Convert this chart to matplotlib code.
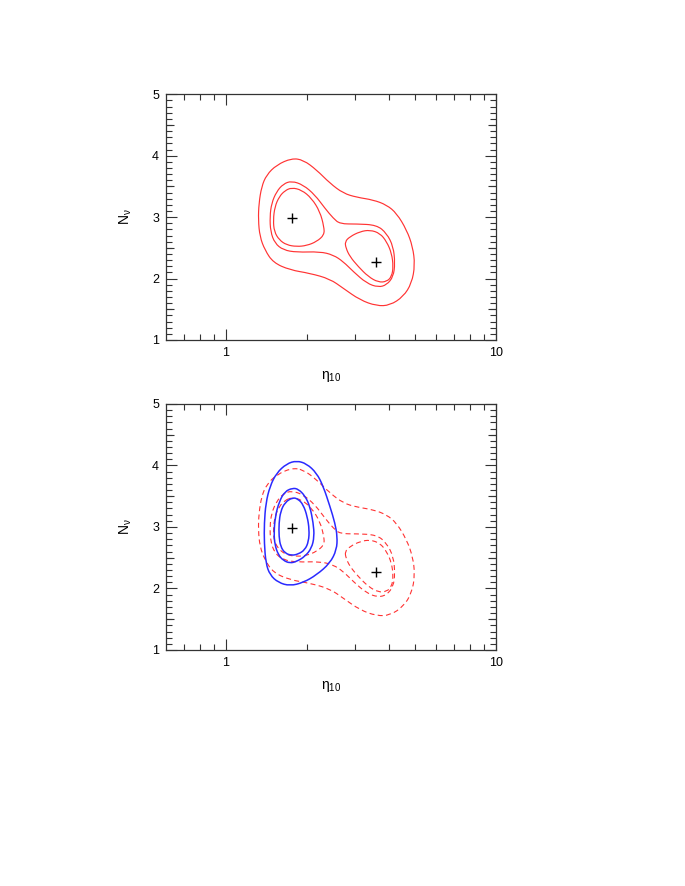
import matplotlib
matplotlib.use('Agg')
import matplotlib.pyplot as plt
from matplotlib.path import Path
from matplotlib.patches import PathPatch
from matplotlib.ticker import FixedLocator, MultipleLocator, NullFormatter

plt.rcParams['font.family'] = ['Liberation Sans', 'DejaVu Sans']
plt.rcParams['mathtext.fontset'] = 'custom'
plt.rcParams['mathtext.rm'] = 'Liberation Sans'
plt.rcParams['mathtext.it'] = 'Liberation Sans:italic'

# best-fit points (eta_10, N_nu)
best_eta = [1.75, 3.61]
best_n = [2.98, 2.27]

# red contours (BBN only)
red_outer_eta = [1.751, 1.540, 1.414, 1.356, 1.325, 1.318, 1.336, 1.394, 1.497, 1.726,
                 2.047, 2.428, 2.720, 3.136, 3.614, 4.050, 4.538, 4.872, 5.012, 4.914,
                 4.669, 4.287, 3.937, 3.513, 3.048, 2.720, 2.428, 2.167, 1.934, 1.751]
red_outer_n = [3.958, 3.849, 3.687, 3.497, 3.225, 2.954, 2.682, 2.465, 2.259, 2.140,
               2.085, 1.993, 1.841, 1.651, 1.554, 1.564, 1.706, 1.923, 2.221, 2.520,
               2.791, 3.062, 3.198, 3.280, 3.323, 3.388, 3.551, 3.768, 3.931, 3.958]

red_mid_eta = [1.751, 1.934, 2.136, 2.326, 2.498, 2.644, 3.048, 3.614, 3.937, 4.167,
               4.227, 4.167, 3.937, 3.666, 3.319, 2.962, 2.720, 2.498, 2.229, 1.827,
               1.631, 1.518, 1.463, 1.455, 1.476, 1.540, 1.631, 1.751]
red_mid_n = [3.589, 3.524, 3.361, 3.144, 2.981, 2.889, 2.889, 2.872, 2.737, 2.520,
             2.248, 2.031, 1.896, 1.858, 1.923, 2.113, 2.275, 2.384, 2.438, 2.427,
             2.465, 2.574, 2.764, 3.008, 3.225, 3.415, 3.540, 3.589]

red_inl_eta = [1.751, 1.907, 2.077, 2.229, 2.307, 2.313, 2.167, 1.990, 1.827, 1.678,
               1.576, 1.510, 1.497, 1.518, 1.576, 1.654, 1.751]
red_inl_n = [3.480, 3.442, 3.307, 3.090, 2.845, 2.710, 2.601, 2.536, 2.520, 2.547,
             2.628, 2.764, 2.954, 3.171, 3.334, 3.431, 3.480]

red_inr_eta = [2.759, 2.879, 3.136, 3.415, 3.718, 3.937, 4.108, 4.167, 4.108, 3.937,
               3.666, 3.367, 3.091, 2.879, 2.783, 2.759]
red_inr_n = [2.601, 2.682, 2.764, 2.791, 2.737, 2.601, 2.411, 2.194, 2.031, 1.950,
             1.939, 2.031, 2.194, 2.357, 2.493, 2.601]

# blue contours (combined)
blue_outer_eta = [1.827, 1.678, 1.540, 1.455, 1.406, 1.387, 1.387, 1.406, 1.455, 1.563,
                  1.726, 1.934, 2.167, 2.428, 2.570, 2.585, 2.534, 2.428, 2.294, 2.167,
                  1.990, 1.827]
blue_outer_n = [4.077, 4.028, 3.877, 3.659, 3.388, 3.062, 2.737, 2.411, 2.221, 2.096,
                2.042, 2.096, 2.221, 2.411, 2.628, 2.845, 3.062, 3.334, 3.659, 3.877,
                4.028, 4.077]

blue_mid_eta = [1.766, 1.853, 1.962, 2.047, 2.106, 2.124, 2.077, 1.962, 1.827, 1.726,
                1.631, 1.563, 1.518, 1.506, 1.523, 1.576, 1.654, 1.766]
blue_mid_n = [3.632, 3.616, 3.507, 3.334, 3.062, 2.845, 2.655, 2.520, 2.438, 2.411,
              2.455, 2.547, 2.710, 2.900, 3.171, 3.415, 3.578, 3.632]

blue_in_eta = [1.766, 1.853, 1.934, 2.001, 2.036, 2.024, 1.962, 1.853, 1.751, 1.654,
               1.594, 1.572, 1.572, 1.594, 1.654, 1.766]
blue_in_n = [3.480, 3.453, 3.361, 3.171, 2.954, 2.764, 2.628, 2.558, 2.536, 2.574,
             2.682, 2.845, 3.062, 3.252, 3.399, 3.480]

red_sets = [(red_outer_eta, red_outer_n), (red_mid_eta, red_mid_n),
            (red_inl_eta, red_inl_n), (red_inr_eta, red_inr_n)]
blue_sets = [(blue_outer_eta, blue_outer_n), (blue_mid_eta, blue_mid_n),
             (blue_in_eta, blue_in_n)]

RED = '#ff3333'
BLUE = '#2a2aff'
AXC = '#333333'


def smooth_loop(eta, n):
    # closed quadratic-bezier path using the traced points as control points
    pts = list(zip(eta[:-1], n[:-1]))
    k = len(pts)
    mids = [((pts[i][0] * pts[(i + 1) % k][0]) ** 0.5, (pts[i][1] + pts[(i + 1) % k][1]) / 2)
            for i in range(k)]
    verts = [mids[-1]]
    codes = [Path.MOVETO]
    for i in range(k):
        verts += [pts[i], mids[i]]
        codes += [Path.CURVE3, Path.CURVE3]
    return Path(verts, codes)


def draw_loop(ax, eta, n, **kw):
    ax.add_patch(PathPatch(smooth_loop(eta, n), fill=False, **kw))


def set_ticks(ax):
    ax.tick_params(which='both', direction='in', top=True, right=True, left=True,
                   bottom=True, color=AXC, width=0.8, labelsize=9)
    ax.tick_params(which='major', length=8)
    ax.tick_params(which='minor', length=4)
    ax.tick_params(axis='x', which='major', pad=5)
    ax.tick_params(axis='y', which='major', pad=5)


def setup_axes(ax):
    ax.set_xscale('log')
    ax.set_xlim(0.6, 10)
    ax.set_ylim(1, 5)
    ax.xaxis.set_major_locator(FixedLocator([1, 10]))
    ax.xaxis.set_minor_locator(FixedLocator([0.7, 0.8, 0.9, 2, 3, 4, 5, 6, 7, 8, 9]))
    ax.xaxis.set_minor_formatter(NullFormatter())
    ax.set_xticklabels(['1', '10'])
    ax.yaxis.set_major_locator(MultipleLocator(1))
    ax.yaxis.set_minor_locator(MultipleLocator(0.1))
    for s in ax.spines.values():
        s.set_color(AXC)
        s.set_linewidth(0.9)
    ax.set_xlabel(r'$\mathrm{\eta_{10}}$', fontsize=10, labelpad=7)
    ax.set_ylabel(r'$\mathrm{N_{\nu}}$', fontsize=10, labelpad=13)
    # half-unit ticks, a bit longer than the minor ones
    tw = ax.twinx()
    tw.set_ylim(1, 5)
    tw.yaxis.set_major_locator(FixedLocator([1.5, 2.5, 3.5, 4.5]))
    tw.yaxis.set_minor_locator(FixedLocator([]))
    tw.tick_params(axis='y', which='major', direction='in', left=True, right=True,
                   labelleft=False, labelright=False, length=6, color=AXC, width=0.8)
    for s in tw.spines.values():
        s.set_visible(False)
    set_ticks(ax)


fig = plt.figure(figsize=(6.85, 8.86), dpi=100)
ax1 = fig.add_axes([0.2423, 0.6163, 0.4818, 0.2773])
ax2 = fig.add_axes([0.2423, 0.2664, 0.4818, 0.2777])

for ax in (ax1, ax2):
    setup_axes(ax)

for eta, n in red_sets:
    draw_loop(ax1, eta, n, edgecolor=RED, lw=0.85)
    draw_loop(ax2, eta, n, edgecolor=RED, lw=0.8, linestyle=(0, (4.5, 3)))

for eta, n in blue_sets:
    draw_loop(ax2, eta, n, edgecolor=BLUE, lw=1.1)

for ax in (ax1, ax2):
    ax.plot(best_eta, best_n, linestyle='none', marker='+', color='black',
            markersize=7, markeredgewidth=1.0)

fig.savefig('out.png', dpi=100)
